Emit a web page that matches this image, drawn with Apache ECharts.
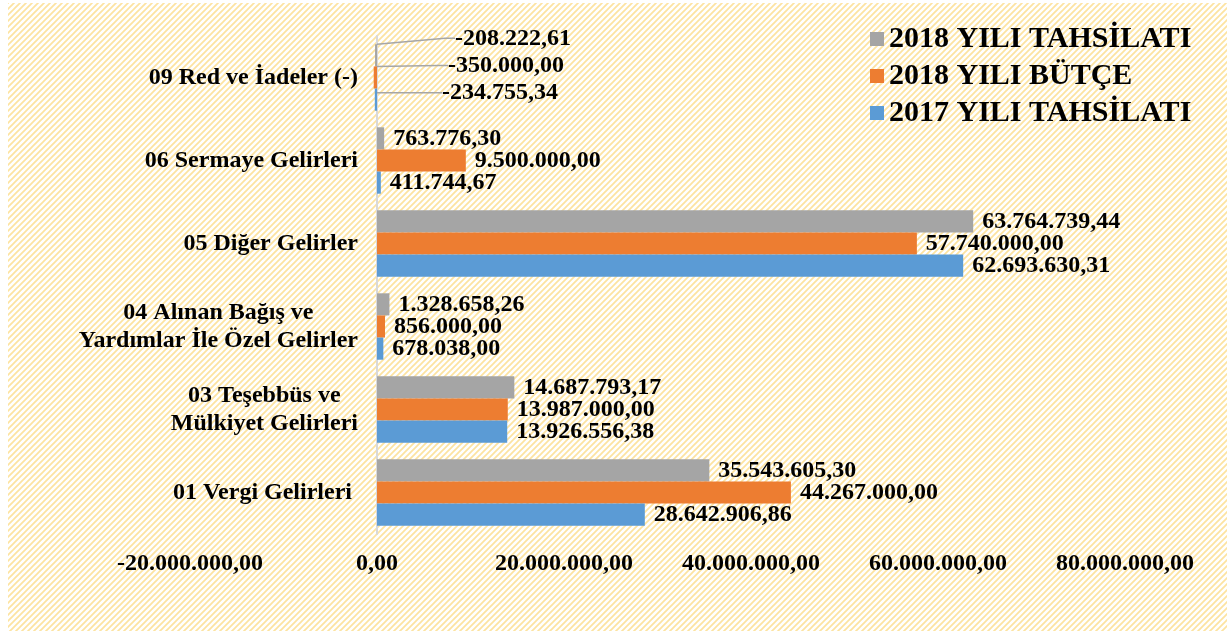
<!DOCTYPE html>
<html>
<head>
<meta charset="utf-8">
<script src="https://cdn.jsdelivr.net/npm/echarts@6/dist/echarts.min.js"></script>
<style>
  html, body { margin: 0; padding: 0; background: #ffffff; }
  #wrap { position: relative; width: 1231px; height: 637px; overflow: hidden; }
  #hatch { position: absolute; left: 8px; top: 3px; right: 4px; bottom: 6px; background-repeat: repeat; }
  #chart { position: absolute; left: 0; top: 0; width: 1231px; height: 637px; }
</style>
</head>
<body>
<div id="wrap">
  <div id="hatch"></div>
  <div id="chart"></div>
</div>
<script>
// Gelir kalemleri (alttan üste)
const categories = [
  '01 Vergi Gelirleri ',
  '03 Teşebbüs ve\nMülkiyet Gelirleri',
  '04 Alınan Bağış ve\nYardımlar İle Özel Gelirler',
  '05 Diğer Gelirler',
  '06 Sermaye Gelirleri',
  '09 Red ve İadeler (-)'
];

const tahsilat2018 = [35543605.30, 14687793.17, 1328658.26, 63764739.44, 763776.30, -208222.61];
const butce2018 = [44267000.00, 13987000.00, 856000.00, 57740000.00, 9500000.00, -350000.00];
const tahsilat2017 = [28642906.86, 13926556.38, 678038.00, 62693630.31, 411744.67, -234755.34];

// Grup içinde üstten alta sıralı seriler
const seriesNames = ['2018 YILI TAHSİLATI', '2018 YILI BÜTÇE', '2017 YILI TAHSİLATI'];
const valueSets = [tahsilat2018, butce2018, tahsilat2017];
const colors = ['#a5a5a5', '#ed7d31', '#5b9bd5'];

const axisMin = -20000000;
const axisMax = 80000000;
const axisStep = 20000000;

const FONT = "'Liberation Serif', 'Times New Roman', serif";

// Çapraz taralı zemin deseni
(function () {
  const s = 6;
  const tile = document.createElement('canvas');
  tile.width = s; tile.height = s;
  const ctx = tile.getContext('2d');
  ctx.fillStyle = '#ffffff';
  ctx.fillRect(0, 0, s, s);
  ctx.strokeStyle = '#fde3a0';
  ctx.lineWidth = 1.7;
  ctx.beginPath();
  ctx.moveTo(-1, s + 1); ctx.lineTo(s + 1, -1);
  ctx.moveTo(-1, 1); ctx.lineTo(1, -1);
  ctx.moveTo(s - 1, s + 1); ctx.lineTo(s + 1, s - 1);
  ctx.stroke();
  document.getElementById('hatch').style.backgroundImage = 'url(' + tile.toDataURL() + ')';
})();

// 1.234.567,89 biçiminde yazar
function trFormat(v) {
  const neg = v < 0;
  const parts = Math.abs(v).toFixed(2).split('.');
  const intPart = parts[0].replace(/\B(?=(\d{3})+(?!\d))/g, '.');
  return (neg ? '-' : '') + intPart + ',' + parts[1];
}

// Negatif değerlerin etiketleri kılavuz çizgisiyle sağa taşınır
const leaderShift = [
  { dx: 69, dy: -17 },
  { dx: 62, dy: -12 },
  { dx: 56, dy: -7 }
];

function buildSeries(idx) {
  return {
    name: seriesNames[idx],
    type: 'bar',
    barGap: '0%',
    barCategoryGap: '20%',
    itemStyle: { color: colors[idx] },
    data: valueSets[idx].map(function (v) {
      return v < 0 ? { value: v, labelLine: { show: true } } : v;
    }),
    label: {
      show: true,
      position: 'right',
      distance: 9,
      color: '#000',
      fontFamily: FONT,
      fontWeight: 'bold',
      fontSize: 24,
      formatter: function (p) { return trFormat(p.value); }
    },
    labelLine: {
      show: false,
      length2: 10,
      lineStyle: { color: '#a6a6a6', width: 1.5 }
    },
    labelLayout: function (p) {
      if (valueSets[p.seriesIndex][p.dataIndex] < 0) {
        return leaderShift[p.seriesIndex];
      }
      return {};
    },
    emphasis: { disabled: true }
  };
}

const chart = echarts.init(document.getElementById('chart'), null, { renderer: 'canvas' });

chart.setOption({
  backgroundColor: 'transparent',
  animation: false,
  color: colors,
  legend: {
    data: seriesNames,
    orient: 'vertical',
    left: 865,
    top: 19,
    itemWidth: 14,
    itemHeight: 14,
    itemGap: 7,
    selectedMode: false,
    icon: 'rect',
    textStyle: {
      fontFamily: FONT,
      fontWeight: 'bold',
      fontSize: 30,
      color: '#000'
    }
  },
  grid: {
    left: 190,
    right: 106,
    top: 36,
    bottom: 103,
    containLabel: false,
    outerBoundsMode: 'none'
  },
  xAxis: {
    type: 'value',
    min: axisMin,
    max: axisMax,
    interval: axisStep,
    axisLine: { show: false },
    axisTick: { show: false },
    splitLine: { show: false },
    axisLabel: {
      margin: 18,
      color: '#000',
      fontFamily: FONT,
      fontWeight: 'bold',
      fontSize: 24,
      formatter: function (v) { return trFormat(v); }
    }
  },
  yAxis: {
    type: 'category',
    data: categories,
    axisLine: { show: true, onZero: true, lineStyle: { color: '#d9d9d9', width: 2 } },
    axisTick: { show: false },
    axisLabel: {
      // etiketler sıfır çizgisinin soluna hizalanır
      margin: -168,
      color: '#000',
      fontFamily: FONT,
      fontWeight: 'bold',
      fontSize: 24,
      formatter: function (v) {
        return v.split('\n').map(function (line) { return '{c|' + line + '}'; }).join('\n');
      },
      rich: {
        c: {
          align: 'center',
          color: '#000',
          fontFamily: FONT,
          fontWeight: 'bold',
          fontSize: 24,
          lineHeight: 28
        }
      }
    }
  },
  series: [buildSeries(0), buildSeries(1), buildSeries(2)]
});
</script>
</body>
</html>
